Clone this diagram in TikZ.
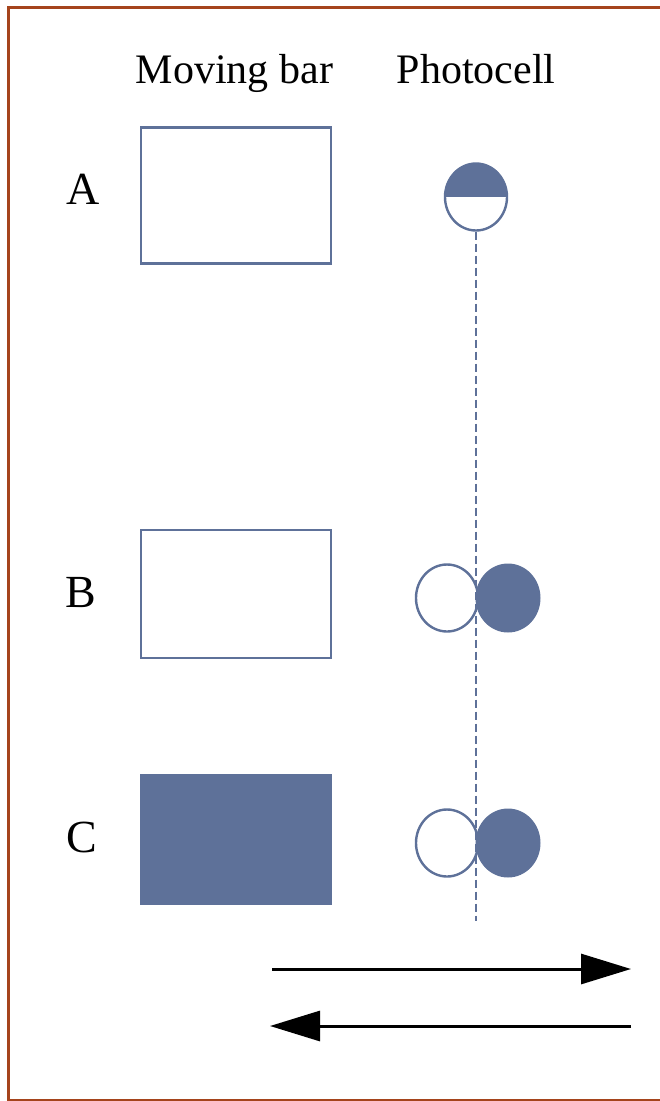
\documentclass[tikz,border=0pt]{standalone}
\usepackage{fontspec}
\setmainfont{Liberation Serif}
\usetikzlibrary{arrows.meta,shapes.geometric}
\definecolor{cellblue}{HTML}{5E7199}
\definecolor{framebrown}{HTML}{A5441C}
\begin{document}
\begin{tikzpicture}[x=1pt,y=-1pt,
  head/.style={font=\fontsize{42}{50}\selectfont, anchor=base, inner sep=0pt},
  lbl/.style={font=\fontsize{46}{54}\selectfont, anchor=base, inner sep=0pt},
  bar/.style={draw=cellblue, line width=2.4pt, minimum width=190pt, minimum height=136pt, inner sep=0pt},
  cell/.style={ellipse, draw=cellblue, line width=2.4pt, minimum width=62pt, minimum height=67pt, inner sep=0pt},
  opencell/.style={cell, fill=white},
  fullcell/.style={ellipse, fill=cellblue, minimum width=65pt, minimum height=69pt, inner sep=0pt},
  axis/.style={draw=cellblue, line width=2.4pt, dash pattern=on 8pt off 4pt},
  motion/.style={line width=3pt, black},
]
\useasboundingbox (0,0) rectangle (659,1101);
\draw[framebrown, line width=3pt] (680,7) -- (8,7) -- (8,1100) -- (680,1100);

% headings
\node[head] (hbar) at (234.5,83) {Moving bar};
\node[head] (hcell) at (476,83) {Photocell};

% row labels
\node[lbl] (la) at (83,204) {A};
\node[lbl] (lb) at (81,607) {B};
\node[lbl] (lc) at (81.5,852) {C};

% bars
\node[bar] (bara) at (236,195.5) {};
\node[bar, minimum height=128pt] (barb) at (236,594) {};
\node[bar, fill=cellblue, draw=none, minimum width=192pt, minimum height=131pt] (barc) at (236,839.5) {};

% photocell A
\node[cell, path picture={\fill[cellblue] (path picture bounding box.west) rectangle (path picture bounding box.north east);}] (cella) at (476,197) {};

% open halves of B and C
\node[opencell] (cellbl) at (447,598) {};
\node[opencell] (cellcl) at (447,843) {};

% axis
\coordinate (axend) at (476,921);
\draw[axis] (cella.south) -- (axend);

% filled halves of B and C
\node[fullcell] (cellbr) at (508,598) {};
\node[fullcell] (cellcr) at (508,843) {};

% arrows
\coordinate (r1) at (272,969);
\coordinate (r2) at (631,969);
\coordinate (l1) at (631,1026);
\coordinate (l2) at (270,1026);
\draw[motion, -{Triangle[length=50pt,width=30pt]}] (r1) -- (r2);
\draw[motion, -{Triangle[length=50pt,width=30pt]}] (l1) -- (l2);
\end{tikzpicture}
\end{document}
